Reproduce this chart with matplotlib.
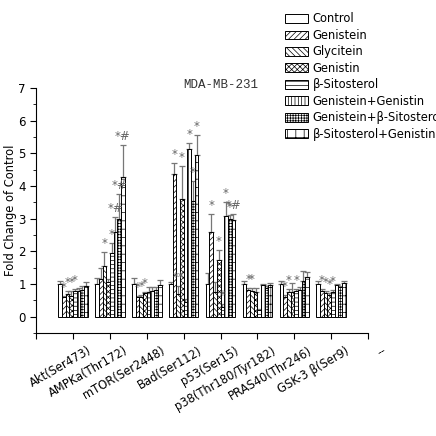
import matplotlib
matplotlib.use('Agg')
import matplotlib.pyplot as plt
import matplotlib.transforms as mtransforms
import numpy as np

# proteins on x axis
proteins = ['Akt(Ser473)', 'AMPKa(Thr172)', 'mTOR(Ser2448)', 'Bad(Ser112)',
            'p53(Ser15)', 'p38(Thr180/Tyr182)', 'PRAS40(Thr246)', 'GSK-3 \u03b2(Ser9)']
extra_label = '--'
treatments = ['Control', 'Genistein', 'Glycitein', 'Genistin', '\u03b2-Sitosterol',
              'Genistein+Genistin', 'Genistein+\u03b2-Sitosterol', '\u03b2-Sitosterol+Genistin']

# fold change, one list per treatment (over proteins)
control      = [1.00, 1.00, 1.00, 1.00, 1.00, 1.00, 1.00, 1.00]
genistein    = [0.60, 1.15, 0.60, 4.37, 2.58, 0.82, 0.62, 0.80]
glycitein    = [0.70, 1.55, 0.60, 0.70, 0.75, 0.80, 0.77, 0.74]
genistin     = [0.65, 1.05, 0.72, 3.60, 1.73, 0.77, 0.77, 0.67]
sitosterol   = [0.80, 1.95, 0.75, 0.45, 0.30, 0.20, 0.80, 0.77]
gen_genistin = [0.78, 2.60, 0.80, 5.12, 3.08, 0.96, 0.82, 0.96]
gen_sito     = [0.82, 3.00, 0.82, 3.55, 3.00, 0.87, 1.09, 0.90]
sito_genistin= [0.93, 4.28, 0.97, 4.95, 2.97, 0.96, 1.21, 1.03]

# upper error (SD)
err_control      = [0.10, 0.20, 0.18, 0.07, 0.33, 0.10, 0.10, 0.10]
err_genistein    = [0.05, 0.35, 0.05, 0.33, 0.57, 0.05, 0.05, 0.05]
err_glycitein    = [0.08, 0.42, 0.08, 0.23, 0.30, 0.08, 0.08, 0.06]
err_genistin     = [0.15, 0.10, 0.05, 1.03, 0.31, 0.10, 0.27, 0.05]
err_sitosterol   = [0.05, 0.30, 0.15, 0.10, 0.10, 0.05, 0.05, 0.05]
err_gen_genistin = [0.10, 0.45, 0.10, 0.21, 0.42, 0.05, 0.08, 0.05]
err_gen_sito     = [0.12, 0.75, 0.10, 0.60, 0.10, 0.06, 0.30, 0.05]
err_sito_genistin= [0.12, 0.97, 0.15, 0.60, 0.18, 0.06, 0.16, 0.05]

# significance marks
sig_genistein    = ['*', '',   '*', '*', '*', '*', '*', '*']
sig_glycitein    = ['*', '*',  '*', '**', '', '*', '*', '*']
sig_genistin     = ['*', '',   '*', '*', '*', '',  '',  '*']
sig_sitosterol   = ['*', '*',  '',  '',  '*', '',  '*', '*']
sig_gen_genistin = ['',  '*#', '', '*', '*', '',  '',  '']
sig_gen_sito     = ['',  '*#', '', '*', '*', '',  '',  '']
sig_sito_genistin= ['',  '*#', '', '*', '*#', '', '',  '']

values = [control, genistein, glycitein, genistin, sitosterol, gen_genistin, gen_sito, sito_genistin]
errors = [err_control, err_genistein, err_glycitein, err_genistin, err_sitosterol,
          err_gen_genistin, err_gen_sito, err_sito_genistin]
sigs = [['']*8, sig_genistein, sig_glycitein, sig_genistin, sig_sitosterol,
        sig_gen_genistin, sig_gen_sito, sig_sito_genistin]
hatches = ['', '//////', '\\\\\\\\\\\\', 'xxxxxx', '----', '|||||', '++++++', '++']

plt.rcParams['hatch.linewidth'] = 0.5

fig = plt.figure(figsize=(4.36, 4.36), dpi=100)
ax = fig.add_axes([0.083, 0.236, 0.761, 0.562])

x = np.arange(1, len(proteins) + 1)
w = 0.1
for i in range(len(treatments)):
    pos = x + (i - 3.5) * w
    ax.bar(pos, values[i], w, color='white', edgecolor='black', linewidth=0.7,
           hatch=hatches[i], label=treatments[i], zorder=2)
    ax.errorbar(pos, values[i], yerr=[np.zeros(8), errors[i]], fmt='none',
                ecolor='#777777', elinewidth=0.9, capsize=2.5, capthick=0.9, zorder=1)
    for j in range(len(proteins)):
        if sigs[i][j]:
            ax.text(pos[j], values[i][j] + errors[i][j] + 0.06, sigs[i][j],
                    ha='center', va='bottom', fontsize=8.5, color='#666666')

ax.set_xlim(0, 9)
ax.set_ylim(-0.5, 7)
ax.set_yticks(range(0, 8))
ax.set_yticks(np.arange(-0.5, 7, 0.5), minor=True)
ax.set_xticks(range(0, 10))
ax.set_xticklabels([])
# rotated labels, shifted right of the group centre like the original
shift = mtransforms.ScaledTranslation(0, -8 / 72, fig.dpi_scale_trans)
trans = ax.get_xaxis_transform() + shift
for k, lab in enumerate(proteins + [extra_label]):
    ax.text(k + 1 + 0.38, 0, lab, transform=trans, rotation=30,
            rotation_mode='anchor', ha='right', va='top', fontsize=8.3,
            clip_on=False)
ax.tick_params(axis='both', labelsize=8.5, length=4, width=0.8)
ax.tick_params(axis='y', which='minor', length=2.5)
ax.spines['top'].set_visible(False)
ax.spines['right'].set_visible(False)
ax.set_ylabel('Fold Change of Control', fontsize=8.3, labelpad=1)

ax.text(5.0, 7.1, 'MDA-MB-231', ha='center', va='center', fontsize=9,
        family='Liberation Mono', color='#333333')

fig.legend(loc='upper left', bbox_to_anchor=(0.643, 0.982), frameon=False,
           fontsize=8.3, handlelength=2.0, handleheight=0.8, labelspacing=0.3,
           handletextpad=0.4, borderaxespad=0)

plt.savefig('out.png', dpi=100)
